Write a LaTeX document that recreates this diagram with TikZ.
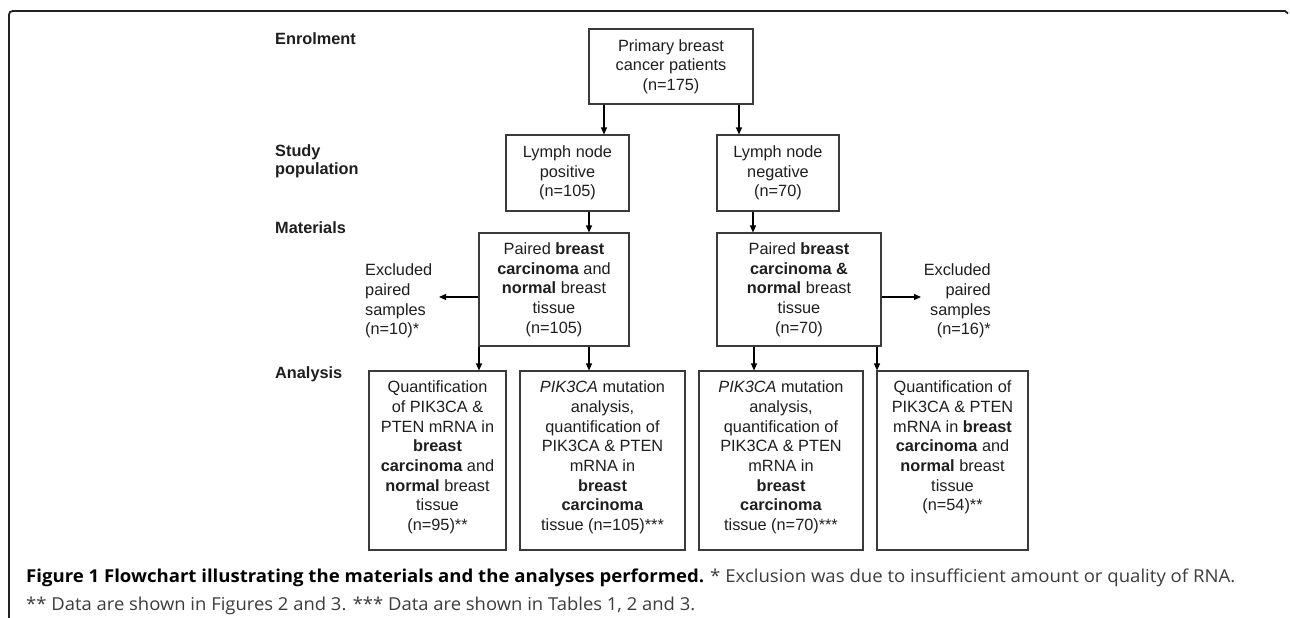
\documentclass[tikz,border=0pt]{standalone}
\usepackage{fontspec}
\usepackage{graphicx}
\newfontfamily\arialf{Liberation Sans}
\newfontfamily\capf{Open Sans}
\usetikzlibrary{arrows.meta,calc}
\definecolor{txt}{HTML}{1E1E1E}
\definecolor{bord}{HTML}{3A3A3A}
\definecolor{capgray}{HTML}{3C3C3C}
\definecolor{framec}{HTML}{222222}
\newcommand{\topbox}[3]{\parbox[c][#2][t]{#1}{\centering\vspace*{8pt}\strut #3}}
\newcommand{\fitw}[2]{\resizebox{#1}{\height}{#2}}
\begin{document}
\begin{tikzpicture}[x=1pt,y=-1pt,
  dfont/.style={font=\arialf\fontsize{16.3}{19.7}\selectfont, text=txt},
  flowbox/.style={dfont, draw=bord, line width=1.1pt, inner sep=0pt, align=center},
  anbox/.style={dfont, draw=bord, line width=1.1pt, inner sep=0pt},
  hdr/.style={font=\arialf\bfseries\fontsize{16.3}{18.3}\selectfont, text=txt, anchor=west, align=left, inner sep=0pt},
  exnote/.style={dfont, inner sep=0pt},
  arr/.style={line width=1.2pt, draw=black, -{Triangle[length=7pt,width=6pt]}},
  capstyle/.style={font=\capf\fontsize{17.8}{20}\selectfont, text=capgray, anchor=base west, inner sep=0pt}]
\useasboundingbox (0,0) rectangle (1290,618);
% frame
\draw[line width=1.8pt, draw=framec] (9,618) -- (9,19) .. controls (9,11) .. (17,11) -- (1285,11) -- (1288,13.5);
% stage headers
\node[hdr] (hEnr) at (275,39) {Enrolment};
\node[hdr] (hStudy) at (275,161) {Study\\population};
\node[hdr] (hMat) at (275,228) {Materials};
\node[hdr] (hAna) at (275,374) {Analysis};
% boxes
\node[flowbox, minimum width=164pt, minimum height=75pt] (box1) at (671,66.5) {Primary breast\\cancer patients\\(n=175)};
\node[flowbox, minimum width=123pt, minimum height=76pt] (box2) at (567.5,173) {Lymph node\\positive\\(n=105)};
\node[flowbox, minimum width=122pt, minimum height=76pt] (box3) at (778,173) {Lymph node\\negative\\(n=70)};
\node[flowbox, minimum width=150pt, minimum height=113pt] (box4) at (554,289.5) {Paired \textbf{breast}\\\textbf{carcinoma} and\\\textbf{normal} breast\\tissue\\(n=105)};
\node[flowbox, minimum width=164pt, minimum height=113pt] (box5) at (799,289.5) {Paired \textbf{breast}\\\textbf{carcinoma \&}\\\textbf{normal} breast\\tissue\\(n=70)};
\node[exnote, anchor=west, align=left] (exL) at (365,301) {Excluded\\paired\\samples\\(n=10)*};
\node[exnote, anchor=east, align=right] (exR) at (991,301) {Excluded\\paired\\samples\\(n=16)*};
\node[anbox] (bA) at (437.5,460.5) {\topbox{137pt}{179pt}{Quantification\\of PIK3CA \&\\PTEN mRNA in\\\textbf{breast}\\\textbf{carcinoma} and\\\textbf{normal} breast\\tissue\\(n=95)**}};
\node[anbox] (bB) at (602.5,460.5) {\topbox{165pt}{179pt}{\textit{PIK3CA} mutation\\analysis,\\quantification of\\PIK3CA \& PTEN\\mRNA in\\\textbf{breast}\\\textbf{carcinoma}\\tissue (n=105)***}};
\node[anbox] (bC) at (781,460.5) {\topbox{164pt}{179pt}{\textit{PIK3CA} mutation\\analysis,\\quantification of\\PIK3CA \& PTEN\\mRNA in\\\textbf{breast}\\\textbf{carcinoma}\\tissue (n=70)***}};
\node[anbox] (bD) at (952.5,460.5) {\topbox{151pt}{179pt}{Quantification of\\PIK3CA \& PTEN\\mRNA in \textbf{breast}\\\textbf{carcinoma} and\\\textbf{normal} breast\\tissue\\(n=54)**}};
% arrow columns
\coordinate (k1) at (604,0);
\coordinate (k2) at (739,0);
\coordinate (k3) at (589,0);
\coordinate (k4) at (753,0);
\coordinate (k5) at (479,0);
\coordinate (k7) at (754,0);
\coordinate (k8) at (877,0);
\coordinate (exLtip) at (439,297);
\coordinate (exRtip) at (921,297);
\draw[arr] (k1 |- box1.south) -- (k1 |- box2.north);
\draw[arr] (k2 |- box1.south) -- (k2 |- box3.north);
\draw[arr] (k3 |- box2.south) -- (k3 |- box4.north);
\draw[arr] (k4 |- box3.south) -- (k4 |- box5.north);
\draw[arr] (box4.west |- exLtip) -- (exLtip);
\draw[arr] (box5.east |- exRtip) -- (exRtip);
\draw[arr] (k5 |- box4.south) -- (k5 |- bA.north);
\draw[arr] (k3 |- box4.south) -- (k3 |- bB.north);
\draw[arr] (k7 |- box5.south) -- (k7 |- bC.north);
\draw[arr] (k8 |- box5.south) -- (k8 |- bD.north);
% caption
\node[capstyle] (cap1) at (26,582.5) {\fitw{678pt}{\color{black}\bfseries Figure 1 Flowchart illustrating the materials and the analyses performed.}\hspace{6pt}\fitw{525pt}{* Exclusion was due to insufficient amount or quality of RNA.}};
\node[capstyle] (cap2) at (26,610.5) {\fitw{669pt}{** Data are shown in Figures 2 and 3. *** Data are shown in Tables 1, 2 and 3.}};
\end{tikzpicture}
\end{document}
